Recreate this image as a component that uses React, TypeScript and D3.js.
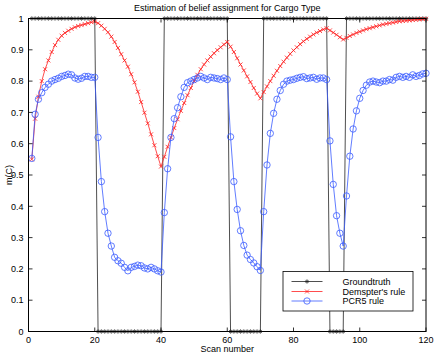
import React from "react";
import * as d3 from "d3";

const W = 436;
const H = 355;

const title = "Estimation of belief assignment for Cargo Type";
const xLabel = "Scan number";
const yLabel = "m(C)";
const xTicks = [0, 20, 40, 60, 80, 100, 120];
const yTicks = [0, 0.1, 0.2, 0.3, 0.4, 0.5, 0.6, 0.7, 0.8, 0.9, 1];
const seriesNames = ["Groundtruth", "Demspter's rule", "PCR5 rule"];

const groundtruth = [
  1, 1, 1, 1, 1, 1, 1, 1, 1, 1, 1, 1, 1, 1, 1, 1, 1, 1, 1, 1,
  0, 0, 0, 0, 0, 0, 0, 0, 0, 0, 0, 0, 0, 0, 0, 0, 0, 0, 0, 0,
  1, 1, 1, 1, 1, 1, 1, 1, 1, 1, 1, 1, 1, 1, 1, 1, 1, 1, 1, 1,
  0, 0, 0, 0, 0, 0, 0, 0, 0, 0,
  1, 1, 1, 1, 1, 1, 1, 1, 1, 1, 1, 1, 1, 1, 1, 1, 1, 1, 1, 1,
  0, 0, 0, 0, 0,
  1, 1, 1, 1, 1, 1, 1, 1, 1, 1, 1, 1, 1, 1, 1, 1, 1, 1, 1, 1, 1, 1, 1, 1, 1,
];

const dempster = [
  0.55, 0.68, 0.75, 0.8, 0.838, 0.866, 0.893, 0.915, 0.932, 0.945,
  0.954, 0.961, 0.967, 0.972, 0.976, 0.979, 0.982, 0.985, 0.988, 0.99,
  0.985, 0.977, 0.967, 0.956, 0.942, 0.925, 0.906, 0.886, 0.866, 0.846,
  0.822, 0.796, 0.766, 0.733, 0.699, 0.665, 0.63, 0.595, 0.56, 0.527,
  0.558, 0.59, 0.62, 0.65, 0.678, 0.705, 0.73, 0.755, 0.778, 0.8,
  0.82, 0.838, 0.853, 0.866, 0.878, 0.889, 0.899, 0.908, 0.917, 0.925,
  0.91, 0.893, 0.873, 0.853, 0.834, 0.815, 0.797, 0.778, 0.76, 0.745,
  0.765, 0.783, 0.8, 0.817, 0.833, 0.848, 0.862, 0.875, 0.887, 0.898,
  0.908, 0.918, 0.927, 0.935, 0.942, 0.949, 0.955, 0.96, 0.965, 0.969,
  0.962, 0.955, 0.948, 0.94, 0.933,
  0.938, 0.944, 0.949, 0.954, 0.958, 0.962, 0.966, 0.969, 0.972, 0.975,
  0.978, 0.981, 0.983, 0.985, 0.987, 0.989, 0.991, 0.992, 0.993, 0.994,
  0.995, 0.996, 0.997, 0.998, 0.999,
];

const pcr5 = [
  0.553, 0.694, 0.742, 0.763, 0.78, 0.79, 0.8, 0.805, 0.809, 0.815,
  0.818, 0.822, 0.82, 0.81, 0.806, 0.809, 0.815, 0.815, 0.812, 0.812,
  0.62, 0.479, 0.383, 0.314, 0.273, 0.237, 0.226, 0.218, 0.205, 0.194,
  0.205, 0.208, 0.212, 0.21, 0.203, 0.2, 0.205, 0.2, 0.194, 0.19,
  0.38, 0.52, 0.62, 0.68, 0.715, 0.75, 0.78, 0.795, 0.8, 0.805,
  0.81, 0.815, 0.81, 0.805, 0.812, 0.81, 0.808, 0.805, 0.81, 0.805,
  0.622, 0.479, 0.39, 0.322, 0.275, 0.244, 0.23, 0.219, 0.207, 0.195,
  0.383, 0.532, 0.633, 0.697, 0.742, 0.77, 0.79, 0.8, 0.803, 0.805,
  0.809, 0.812, 0.814, 0.808, 0.81, 0.812, 0.806, 0.81, 0.81, 0.805,
  0.609, 0.47, 0.37, 0.314, 0.273,
  0.433, 0.56, 0.647, 0.705, 0.745, 0.77, 0.787, 0.797, 0.8, 0.797,
  0.795, 0.8, 0.8, 0.805, 0.803, 0.812, 0.815, 0.812, 0.815, 0.812,
  0.82, 0.815, 0.818, 0.823, 0.825,
];

const FONT = "'Liberation Sans', Arial, Helvetica, sans-serif";
const BLUE = "#3a5cff";
const RED = "#ff2020";
const BLACK = "#222";

const starPath = (r: number) => {
  const d = r * 0.7071;
  return `M${-r},0L${r},0M0,${-r}L0,${r}M${-d},${-d}L${d},${d}M${-d},${d}L${d},${-d}`;
};
const crossPath = (r: number) => `M${-r},${-r}L${r},${r}M${-r},${r}L${r},${-r}`;

export default function App() {
  const x = d3.scaleLinear().domain([0, 120]).range([28.5, 426]);
  const y = d3.scaleLinear().domain([0, 1]).range([331.5, 18.5]);
  const idx = d3.range(groundtruth.length);
  const xv = (i: number) => x(i + 1);

  const line = (vals: number[]) =>
    d3
      .line<number>()
      .x((_, i) => xv(i))
      .y((v) => y(v))(vals) as string;

  const [x0, x1] = x.range();
  const [y0, y1] = y.range();
  const tick = 4;

  // legend
  const lx = 283, ly = 271.5, lw = 130, lh = 39.5;
  const rows = [281.5, 291.5, 301];

  return (
    <svg
      width={W}
      height={H}
      style={{ position: "absolute", left: 0, top: 0, background: "#fff" }}
      fontFamily={FONT}
    >
      <rect x={0} y={0} width={W} height={H} fill="#fff" />
      {/* groundtruth */}
      <path d={line(groundtruth)} fill="none" stroke={BLACK} strokeWidth={0.8} />
      {idx.map((i) => (
        <path
          key={"g" + i}
          d={starPath(2.2)}
          transform={`translate(${xv(i)},${y(groundtruth[i])})`}
          stroke={BLACK}
          strokeWidth={0.7}
          fill="none"
        />
      ))}
      {/* dempster */}
      <path d={line(dempster)} fill="none" stroke={RED} strokeWidth={0.8} />
      {idx.map((i) => (
        <path
          key={"d" + i}
          d={crossPath(2)}
          transform={`translate(${xv(i)},${y(dempster[i])})`}
          stroke={RED}
          strokeWidth={0.8}
          fill="none"
        />
      ))}
      {/* pcr5 */}
      <path d={line(pcr5)} fill="none" stroke={BLUE} strokeWidth={0.8} />
      {idx.map((i) => (
        <circle
          key={"p" + i}
          cx={xv(i)}
          cy={y(pcr5[i])}
          r={3.2}
          stroke={BLUE}
          strokeWidth={0.8}
          fill="none"
        />
      ))}

      {/* axes box */}
      <rect x={x0} y={y1} width={x1 - x0} height={y0 - y1} fill="none" stroke="#000" strokeWidth={1} />
      {xTicks.map((t) => (
        <g key={"xt" + t}>
          <line x1={x(t)} x2={x(t)} y1={y0} y2={y0 - tick} stroke="#000" strokeWidth={0.8} />
          <line x1={x(t)} x2={x(t)} y1={y1} y2={y1 + tick} stroke="#000" strokeWidth={0.8} />
          <text x={x(t)} y={y0 + 11} fontSize={9} textAnchor="middle" fill="#000">
            {t}
          </text>
        </g>
      ))}
      {yTicks.map((t) => (
        <g key={"yt" + t}>
          <line x1={x0} x2={x0 + tick} y1={y(t)} y2={y(t)} stroke="#000" strokeWidth={0.8} />
          <line x1={x1} x2={x1 - tick} y1={y(t)} y2={y(t)} stroke="#000" strokeWidth={0.8} />
          <text x={x0 - 5} y={y(t) + 3.2} fontSize={9} textAnchor="end" fill="#000">
            {String(t)}
          </text>
        </g>
      ))}
      <text x={(x0 + x1) / 2} y={10.5} fontSize={9} textAnchor="middle" fill="#000">
        {title}
      </text>
      <text x={(x0 + x1) / 2} y={351.5} fontSize={9} textAnchor="middle" fill="#000">
        {xLabel}
      </text>
      <text
        transform={`translate(12,${(y0 + y1) / 2}) rotate(-90)`}
        fontSize={9}
        textAnchor="middle"
        fill="#000"
      >
        {yLabel}
      </text>

      {/* legend */}
      <rect x={lx} y={ly} width={lw} height={lh} fill="#fff" stroke="#000" strokeWidth={0.8} />
      {seriesNames.map((name, k) => {
        const yy = rows[k];
        const color = k === 0 ? BLACK : k === 1 ? RED : BLUE;
        return (
          <g key={"lg" + k}>
            <line x1={291.5} x2={322.5} y1={yy} y2={yy} stroke={color} strokeWidth={0.8} />
            {k === 0 && (
              <path d={starPath(2.2)} transform={`translate(307,${yy})`} stroke={color} strokeWidth={0.7} fill="none" />
            )}
            {k === 1 && (
              <path d={crossPath(2)} transform={`translate(307,${yy})`} stroke={color} strokeWidth={0.8} fill="none" />
            )}
            {k === 2 && <circle cx={307} cy={yy} r={3.2} stroke={color} strokeWidth={0.8} fill="none" />}
            <text x={342.5} y={yy + 3.2} fontSize={9} fill="#000">
              {name}
            </text>
          </g>
        );
      })}
    </svg>
  );
}
